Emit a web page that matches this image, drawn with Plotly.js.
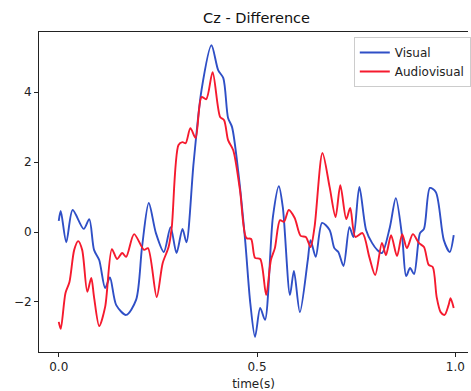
<!DOCTYPE html>
<html>
<head>
<meta charset="utf-8">
<script src="https://cdn.plot.ly/plotly-3.0.1.min.js"></script>
<style>html,body{margin:0;padding:0;background:#fff;overflow:hidden}</style>
</head>
<body>
<div id="chart" style="width:471px;height:391px"></div>
<script>
const visualT = [0.000,0.005,0.019,0.035,0.063,0.077,0.089,0.102,0.117,0.129,0.145,0.170,0.195,0.210,0.227,0.245,0.265,0.282,0.297,0.312,0.322,0.340,0.360,0.385,0.402,0.415,0.427,0.437,0.453,0.470,0.483,0.495,0.508,0.520,0.540,0.555,0.565,0.583,0.593,0.608,0.628,0.635,0.648,0.664,0.683,0.695,0.705,0.718,0.733,0.743,0.758,0.775,0.790,0.803,0.815,0.835,0.850,0.866,0.876,0.886,0.896,0.911,0.921,0.936,0.951,0.971,0.986,0.996];
const visualV = [0.32,0.60,-0.29,0.63,0.09,0.37,-0.51,-0.80,-1.60,-1.30,-2.09,-2.37,-1.94,-0.43,0.83,-0.03,-0.57,0.14,-0.60,0.09,-0.29,1.97,4.06,5.34,4.63,4.40,3.26,3.00,1.69,-0.23,-2.03,-3.00,-2.17,-2.51,0.43,1.31,0.71,-1.80,-1.11,-2.29,-0.80,-0.23,-0.71,0.26,0.06,-0.46,-0.57,-0.97,0.14,-0.14,1.29,0.06,-0.31,-0.51,-0.60,0.14,0.97,-0.14,-1.26,-1.03,-1.20,-0.03,0.09,1.26,1.14,-0.23,-0.57,-0.09];
const avT = [0.000,0.005,0.017,0.027,0.039,0.049,0.059,0.072,0.082,0.089,0.102,0.117,0.134,0.147,0.160,0.170,0.190,0.215,0.225,0.247,0.262,0.277,0.285,0.302,0.312,0.320,0.332,0.345,0.360,0.372,0.388,0.407,0.417,0.427,0.440,0.457,0.473,0.485,0.495,0.508,0.523,0.535,0.545,0.558,0.568,0.580,0.595,0.610,0.623,0.635,0.645,0.665,0.683,0.698,0.710,0.725,0.735,0.748,0.766,0.783,0.798,0.815,0.825,0.838,0.853,0.866,0.878,0.893,0.908,0.921,0.933,0.943,0.953,0.963,0.973,0.983,0.988,0.996];
const avV = [-2.57,-2.77,-1.74,-1.43,-0.51,-0.26,-0.51,-1.71,-1.31,-1.86,-2.69,-2.14,-0.49,-0.77,-0.60,-0.71,-0.06,-0.51,-0.46,-1.86,-0.89,-0.43,0.14,2.49,2.57,2.54,2.97,2.69,3.86,3.80,4.57,3.29,3.20,2.63,2.34,1.20,-0.17,-0.20,-0.74,-0.77,-1.80,-0.80,-0.46,0.34,0.29,0.63,0.40,-0.11,-0.14,-0.43,0.14,2.26,1.29,0.43,1.34,0.37,0.69,-0.14,-0.03,-0.71,-1.23,-0.31,-0.66,-0.09,-0.69,-0.06,-0.46,-0.06,-0.31,-0.43,-0.94,-1.00,-1.86,-2.29,-2.37,-2.09,-1.89,-2.17];
const xTicks = [0.0, 0.5, 1.0];
const xTickText = ['0.0', '0.5', '1.0'];
const yTicks = [-2, 0, 2, 4];

const font = {family: 'DejaVu Sans, sans-serif', size: 12, color: '#222'};
const traces = [
  {x: visualT, y: visualV, name: 'Visual', mode: 'lines', type: 'scatter',
   line: {color: '#2f4fc6', width: 1.9, shape: 'spline', smoothing: 0.8}},
  {x: avT, y: avV, name: 'Audiovisual', mode: 'lines', type: 'scatter',
   line: {color: '#f51a2e', width: 1.9, shape: 'spline', smoothing: 0.8}}
];
const layout = {
  width: 471, height: 391,
  margin: {l: 39, r: 0, t: 32, b: 39, pad: 0},
  paper_bgcolor: '#fff', plot_bgcolor: '#fff',
  font: font,
  showlegend: true,
  title: {text: 'Cz - Difference', font: {family: 'DejaVu Sans, sans-serif', size: 14.5, color: '#111'},
          x: 0.507, xref: 'paper', xanchor: 'center', y: 1 - 18/391, yref: 'container', yanchor: 'middle'},
  xaxis: {range: [-0.0498, 1.032], tickvals: xTicks, ticktext: xTickText,
          showgrid: false, zeroline: false, showline: true, mirror: true, linecolor: '#222', linewidth: 1,
          ticks: 'outside', ticklen: 4, tickcolor: '#222', tickfont: font,
          title: {text: 'time(s)', font: font, standoff: 6}},
  yaxis: {range: [-3.43, 5.72], tickvals: yTicks,
          showgrid: false, zeroline: false, showline: true, mirror: false, linecolor: '#222', linewidth: 1,
          ticks: 'outside', ticklen: 4, tickcolor: '#222', tickfont: font},
  legend: {x: (356-39)/432, y: (352-37)/320, xanchor: 'left', yanchor: 'top',
           bgcolor: 'rgba(255,255,255,0.8)', bordercolor: '#cccccc', borderwidth: 1,
           font: {family: 'DejaVu Sans, sans-serif', size: 12, color: '#222'},
           itemwidth: 30, tracegroupgap: 0}
};
Plotly.newPlot('chart', traces, layout, {staticPlot: true, displayModeBar: false});
</script>
</body>
</html>
